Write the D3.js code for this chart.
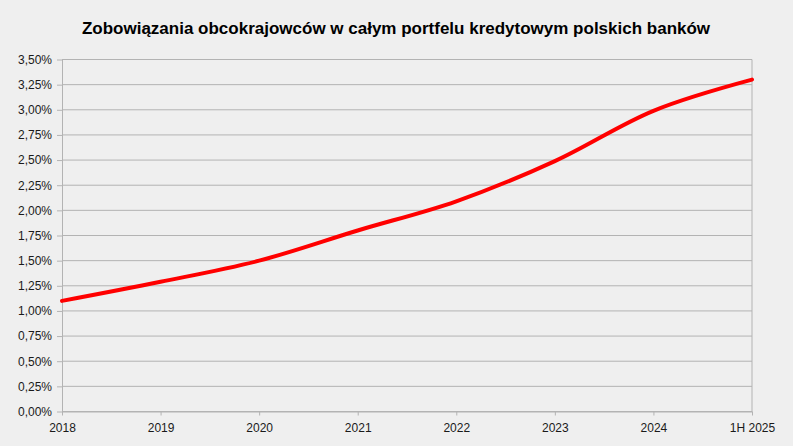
<!DOCTYPE html>
<html>
<head>
<meta charset="utf-8">
<script src="https://cdn.jsdelivr.net/npm/d3@7"></script>
<style>
  html, body { margin: 0; padding: 0; background: #efefef; }
  svg { display: block; font-family: Arial, "Liberation Sans", sans-serif; }
</style>
</head>
<body>
<svg id="chart" width="793" height="446"></svg>
<script>
const title = "Zobowiązania obcokrajowców w całym portfelu kredytowym polskich banków";
const categories = ["2018", "2019", "2020", "2021", "2022", "2023", "2024", "1H 2025"];
const shares = [1.10, 1.29, 1.50, 1.80, 2.09, 2.49, 2.99, 3.30];
const yTicks = [0, 0.25, 0.5, 0.75, 1, 1.25, 1.5, 1.75, 2, 2.25, 2.5, 2.75, 3, 3.25, 3.5];

const width = 793, height = 446
    , margin = { left: 62, right: 41, top: 59.5, bottom: 34.5 }
    , svg = d3.select("#chart");

const x = d3.scalePoint()
    .domain(categories)
    .range([margin.left, width - margin.right]);
const y = d3.scaleLinear()
    .domain([0, 3.5])
    .range([height - margin.bottom, margin.top]);

const fmt = d => d.toFixed(2).replace(".", ",") + "%";

// title
svg.append("text")
    .attr("x", 396)
    .attr("y", 34)
    .attr("text-anchor", "middle")
    .attr("font-size", 17)
    .attr("font-weight", "bold")
    .attr("fill", "#000")
    .text(title);

// horizontal gridlines
svg.append("g")
    .selectAll("line")
    .data(yTicks)
    .join("line")
    .attr("x1", margin.left)
    .attr("x2", width - margin.right)
    .attr("y1", d => y(d))
    .attr("y2", d => y(d))
    .attr("stroke", "#b3b3b3")
    .attr("stroke-width", 1);

// right border
svg.append("line")
    .attr("x1", width - margin.right).attr("x2", width - margin.right)
    .attr("y1", margin.top).attr("y2", height - margin.bottom)
    .attr("stroke", "#b3b3b3");

// y axis
const yAxis = svg.append("g")
    .attr("transform", `translate(${margin.left},0)`)
    .call(d3.axisLeft(y).tickValues(yTicks).tickFormat(fmt).tickSize(5).tickSizeOuter(0));
yAxis.select(".domain").attr("stroke", "#b3b3b3");
yAxis.selectAll(".tick line").attr("stroke", "#b3b3b3");
yAxis.selectAll("text").attr("font-size", 12).attr("fill", "#1a1a1a")
    .attr("font-family", "Arial, 'Liberation Sans', sans-serif").attr("x", -10);

// x axis
const xAxis = svg.append("g")
    .attr("transform", `translate(0,${height - margin.bottom})`)
    .call(d3.axisBottom(x).tickSize(4).tickSizeOuter(0));
xAxis.select(".domain").attr("stroke", "#b3b3b3");
xAxis.selectAll(".tick line").attr("stroke", "#b3b3b3");
xAxis.selectAll("text").attr("font-size", 12).attr("fill", "#1a1a1a")
    .attr("font-family", "Arial, 'Liberation Sans', sans-serif").attr("y", 12);

// line
const line = d3.line()
    .x((d, i) => x(categories[i]))
    .y(d => y(d))
    .curve(d3.curveCatmullRom.alpha(0.5));

svg.append("path")
    .datum(shares)
    .attr("d", line)
    .attr("fill", "none")
    .attr("stroke", "#ff0000")
    .attr("stroke-width", 4)
    .attr("stroke-linecap", "round");
</script>
</body>
</html>
